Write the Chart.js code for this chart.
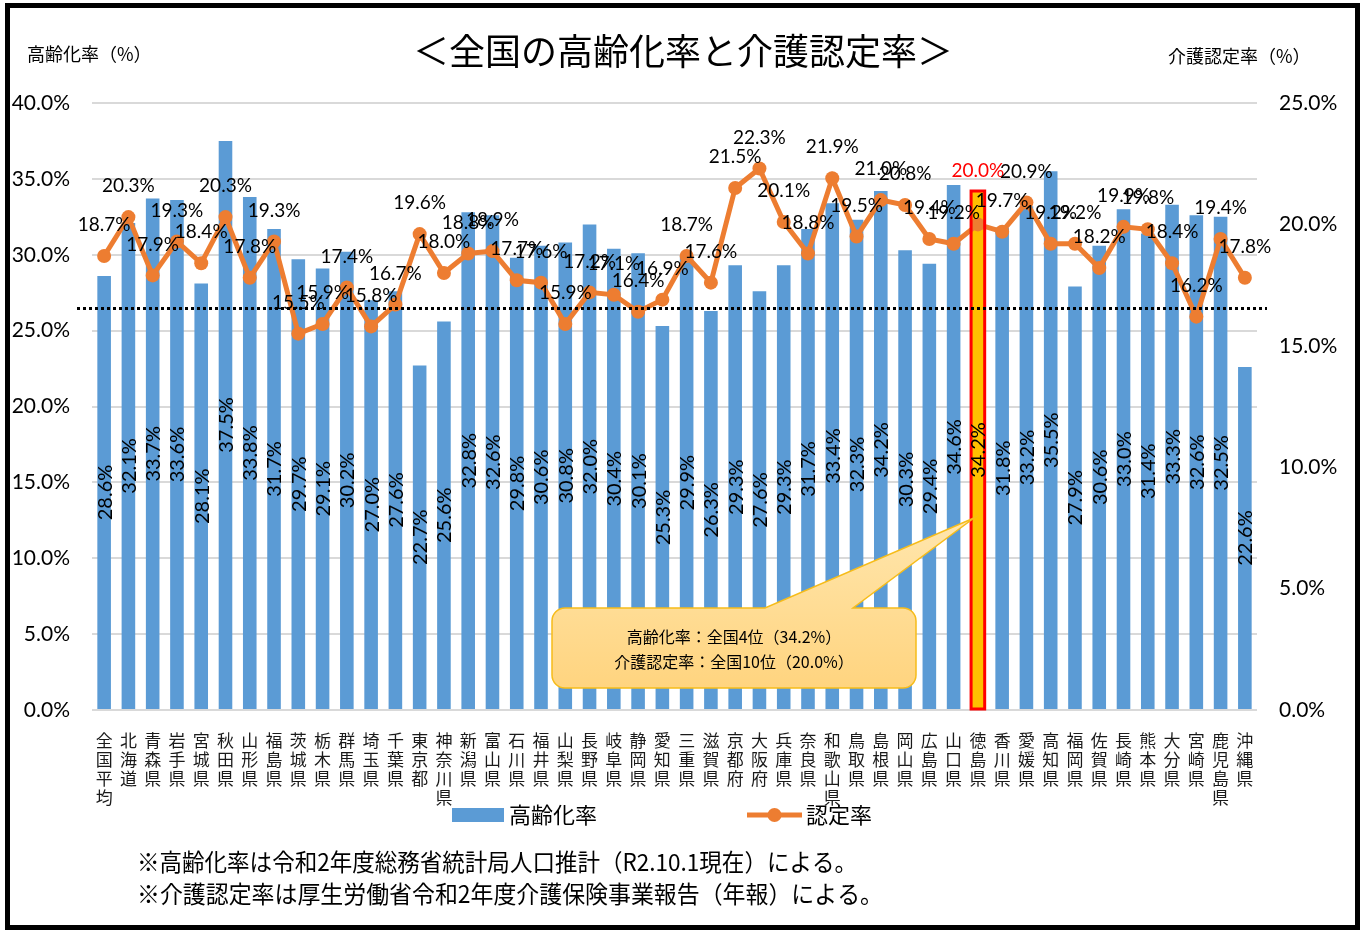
<!DOCTYPE html>
<html><head><meta charset="utf-8">
<script src="https://cdn.jsdelivr.net/npm/chart.js@4/dist/chart.umd.min.js"></script>
<style>
html,body{margin:0;padding:0;background:#fff;}
#wrap{position:relative;width:1365px;height:932px;overflow:hidden;}
#frame{position:absolute;left:5px;top:3px;width:1355px;height:927px;border:5px solid #000;box-sizing:border-box;pointer-events:none;}
canvas{position:absolute;left:0;top:0;}
</style></head><body>
<div id="wrap"><canvas id="c" width="1365" height="932"></canvas><div id="frame"></div></div>
<script>
const categories = ['全国平均','北海道','青森県','岩手県','宮城県','秋田県','山形県','福島県','茨城県','栃木県','群馬県','埼玉県','千葉県','東京都','神奈川県','新潟県','富山県','石川県','福井県','山梨県','長野県','岐阜県','静岡県','愛知県','三重県','滋賀県','京都府','大阪府','兵庫県','奈良県','和歌山県','鳥取県','島根県','岡山県','広島県','山口県','徳島県','香川県','愛媛県','高知県','福岡県','佐賀県','長崎県','熊本県','大分県','宮崎県','鹿児島県','沖縄県'];
const agingRate = [28.6,32.1,33.7,33.6,28.1,37.5,33.8,31.7,29.7,29.1,30.2,27.0,27.6,22.7,25.6,32.8,32.6,29.8,30.6,30.8,32.0,30.4,30.1,25.3,29.9,26.3,29.3,27.6,29.3,31.7,33.4,32.3,34.2,30.3,29.4,34.6,34.2,31.8,33.2,35.5,27.9,30.6,33.0,31.4,33.3,32.6,32.5,22.6];
const careRate = [18.7,20.3,17.9,19.3,18.4,20.3,17.8,19.3,15.5,15.9,17.4,15.8,16.7,19.6,18.0,18.8,18.9,17.7,17.6,15.9,17.2,17.1,16.4,16.9,18.7,17.6,21.5,22.3,20.1,18.8,21.9,19.5,21.0,20.8,19.4,19.2,20.0,19.7,20.9,19.2,19.2,18.2,19.9,19.8,18.4,16.2,19.4,17.8];
const leftAxisMax = 40, rightAxisMax = 25, tickStep = 5;
const highlightName = '徳島県';
const seriesNames = ['高齢化率','認定率'];
const chartTitle = '＜全国の高齢化率と介護認定率＞';
const leftAxisTitle = '高齢化率（%）';
const rightAxisTitle = '介護認定率（%）';
const calloutLines = ['高齢化率：全国4位（34.2%）','介護認定率：全国10位（20.0%）'];
const footnotes = ['※高齢化率は令和2年度総務省統計局人口推計（R2.10.1現在）による。','※介護認定率は厚生労働省令和2年度介護保険事業報告（年報）による。'];
const referenceLineValue = 26.5;

const BLUE = '#5B9BD5', ORANGE = '#ED7D31';
const NUM = 'Lato, "Liberation Sans", sans-serif';
const JP = '"Noto Sans CJK JP", "Noto Sans", sans-serif';
const hi = categories.indexOf(highlightName);

const overlay = {
  id: 'overlay',
  afterDatasetsDraw(chart) {
    const ctx = chart.ctx;
    const barMeta = chart.getDatasetMeta(1);
    const lineMeta = chart.getDatasetMeta(0);
    ctx.save();
    const hb = barMeta.data[hi];
    ctx.strokeStyle = '#FF0000';
    ctx.lineWidth = 3;
    ctx.strokeRect(hb.x - hb.width / 2, hb.y, hb.width, hb.base - hb.y);
    ctx.fillStyle = '#000';
    ctx.font = '20px ' + NUM;
    ctx.textAlign = 'center';
    ctx.textBaseline = 'middle';
    barMeta.data.forEach((b, i) => {
      ctx.save();
      ctx.translate(b.x, (b.y + b.base) / 2);
      ctx.rotate(-Math.PI / 2);
      ctx.fillText(agingRate[i].toFixed(1) + '%', 0, 1);
      ctx.restore();
    });
    ctx.font = '19px ' + NUM;
    lineMeta.data.forEach((p, i) => {
      ctx.fillStyle = i === hi ? '#FF0000' : '#000';
      ctx.fillText(careRate[i].toFixed(1) + '%', p.x, p.y - (i === hi ? 54 : 31));
    });
    ctx.restore();
  },
  afterDraw(chart) {
    const ctx = chart.ctx;
    const ya = chart.scales.y;
    const area = chart.chartArea;
    ctx.save();
    const ry = Math.round(ya.getPixelForValue(referenceLineValue)) + 0.5;
    ctx.strokeStyle = '#000';
    ctx.lineWidth = 3;
    ctx.setLineDash([3, 3]);
    ctx.beginPath();
    ctx.moveTo(area.left - 15, ry);
    ctx.lineTo(area.right + 10, ry);
    ctx.stroke();
    ctx.setLineDash([]);

    const hb = chart.getDatasetMeta(1).data[hi];
    const tipX = hb.x - 4, tipY = ya.getPixelForValue(12.65);
    const bx = 552, by = 608, bw = 364, bh = 80, r = 13;
    const p1 = 765, p2 = 853;
    ctx.beginPath();
    ctx.moveTo(bx + r, by);
    ctx.lineTo(p1, by);
    ctx.lineTo(tipX, tipY);
    ctx.lineTo(p2, by);
    ctx.lineTo(bx + bw - r, by);
    ctx.arcTo(bx + bw, by, bx + bw, by + r, r);
    ctx.lineTo(bx + bw, by + bh - r);
    ctx.arcTo(bx + bw, by + bh, bx + bw - r, by + bh, r);
    ctx.lineTo(bx + r, by + bh);
    ctx.arcTo(bx, by + bh, bx, by + bh - r, r);
    ctx.lineTo(bx, by + r);
    ctx.arcTo(bx, by, bx + r, by, r);
    ctx.closePath();
    const g = ctx.createLinearGradient(0, tipY, 0, by + bh);
    g.addColorStop(0, '#FFE6AD');
    g.addColorStop(1, '#FFD47F');
    ctx.fillStyle = g;
    ctx.fill();
    ctx.strokeStyle = '#F6BC1A';
    ctx.lineWidth = 1.5;
    ctx.stroke();
    ctx.fillStyle = '#000';
    ctx.font = '16px ' + JP;
    ctx.textAlign = 'center';
    ctx.textBaseline = 'middle';
    ctx.fillText(calloutLines[0], bx + bw / 2, 637);
    ctx.fillText(calloutLines[1], bx + bw / 2, 662);

    ctx.font = '36px ' + JP;
    ctx.fillText(chartTitle, 683, 51);
    ctx.font = '18px ' + JP;
    ctx.textAlign = 'left';
    ctx.fillText(leftAxisTitle, 27, 54);
    ctx.fillText(rightAxisTitle, 1168, 56);

    ctx.fillStyle = BLUE;
    ctx.fillRect(452, 808, 52, 14);
    ctx.fillStyle = '#000';
    ctx.font = '22px ' + JP;
    ctx.fillText(seriesNames[0], 509, 815);
    ctx.strokeStyle = ORANGE;
    ctx.lineWidth = 5;
    ctx.beginPath();
    ctx.moveTo(747, 815);
    ctx.lineTo(802, 815);
    ctx.stroke();
    ctx.fillStyle = ORANGE;
    ctx.beginPath();
    ctx.arc(774.5, 815, 7, 0, Math.PI * 2);
    ctx.fill();
    ctx.fillStyle = '#000';
    ctx.fillText(seriesNames[1], 806, 815);

    ctx.font = '24px ' + JP;
    ctx.fillText(footnotes[0], 137, 862, 720);
    ctx.fillText(footnotes[1], 137, 894, 746);
    ctx.restore();
  }
};

new Chart(document.getElementById('c'), {
  data: {
    labels: categories.map(s => s.split('')),
    datasets: [
      {
        type: 'line', label: seriesNames[1], data: careRate, yAxisID: 'y2', order: 0,
        borderColor: ORANGE, backgroundColor: ORANGE, borderWidth: 5,
        pointRadius: 7, pointBackgroundColor: ORANGE, pointBorderColor: ORANGE, pointBorderWidth: 0,
        tension: 0
      },
      {
        type: 'bar', label: seriesNames[0], data: agingRate, yAxisID: 'y', order: 1,
        backgroundColor: categories.map((c, i) => i === hi ? '#FFC000' : BLUE),
        borderWidth: 0, categoryPercentage: 1, barPercentage: 0.56
      }
    ]
  },
  options: {
    responsive: false, animation: false, devicePixelRatio: 1,
    layout: { padding: { left: 0, right: 0, top: 103, bottom: 122 } },
    plugins: { legend: { display: false }, title: { display: false }, tooltip: { enabled: false } },
    scales: {
      x: {
        grid: { display: false }, border: { display: false },
        ticks: { autoSkip: false, maxRotation: 0, minRotation: 0, padding: 13, color: '#1a1a1a',
          font: { family: JP, size: 17, lineHeight: '19px' } },
        afterFit(s) { s.height = 100; }
      },
      y: {
        position: 'left', min: 0, max: leftAxisMax,
        ticks: { stepSize: tickStep, padding: 22, color: '#000', font: { family: NUM, size: 21 },
          callback: v => v.toFixed(1) + '%' },
        grid: { color: '#d9d9d9', lineWidth: 2, drawTicks: false }, border: { display: false },
        afterFit(s) { s.width = 92; }
      },
      y2: {
        position: 'right', min: 0, max: rightAxisMax,
        ticks: { stepSize: tickStep, padding: 22, color: '#000', font: { family: NUM, size: 21 },
          callback: v => v.toFixed(1) + '%' },
        grid: { display: false, drawTicks: false }, border: { display: false },
        afterFit(s) { s.width = 108; }
      }
    }
  },
  plugins: [overlay]
});
</script>
</body></html>
